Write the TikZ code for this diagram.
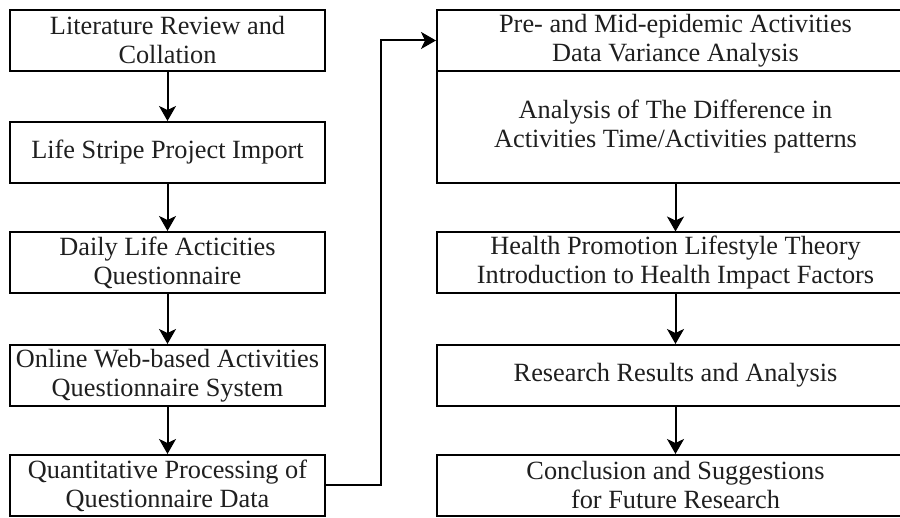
\documentclass[tikz,border=0pt]{standalone}
\usepackage{fontspec}
\newfontfamily\diagfont{Liberation Serif}
\usetikzlibrary{arrows.meta}
\begin{document}
\begin{tikzpicture}[x=1pt,y=-1pt,
  box/.style={draw=black,line width=2pt,fill=white,align=center,inner sep=1pt,
    font=\diagfont\fontsize{26.3}{29}\selectfont,text=black!88},
  lbox/.style={box,minimum width=315pt,minimum height=61pt},
  rbox/.style={box,minimum width=477pt,minimum height=61pt},
  flow/.style={line width=2pt,-{Stealth[length=15pt,width=17pt,inset=4pt]}}]
\useasboundingbox (0,0) rectangle (900,518);
\clip (0,0) rectangle (900,518);
% left column
\node[lbox] (L1) at (167.5,40.5) {Literature Review and\\Collation};
\node[lbox] (L2) at (167.5,152.5) {Life Stripe Project Import};
\node[lbox] (L3) at (167.5,262.5) {Daily Life Acticities\\Questionnaire};
\node[lbox] (L4) at (167.5,375.5) {Online Web-based Activities\\Questionnaire System};
\node[lbox] (L5) at (167.5,485.5) {Quantitative Processing of\\Questionnaire Data};
% right column
\node[rbox] (R1a) at (675.5,40.5) {Pre- and Mid-epidemic Activities\\Data Variance Analysis};
\node[rbox,minimum height=112pt] (R1b) at (675.5,127) {Analysis of The Difference in\\Activities Time/Activities patterns};
\node[rbox] (R2) at (675.5,263) {Health Promotion Lifestyle Theory\\Introduction to Health Impact Factors};
\node[rbox] (R3) at (675.5,375.5) {Research Results and Analysis};
\node[rbox] (R4) at (675.5,485.5) {Conclusion and Suggestions\\for Future Research};
% connectors
\draw[flow] (L1) -- (L2);
\draw[flow] (L2) -- (L3);
\draw[flow] (L3) -- (L4);
\draw[flow] (L4) -- (L5);
\coordinate (turn) at (381,486);
\draw[flow] (L5.east) -- (L5.east -| turn) |- (R1a.west);
\draw[flow] (R1b) -- (R2);
\draw[flow] (R2) -- (R3);
\draw[flow] (R3) -- (R4);
\end{tikzpicture}
\end{document}
